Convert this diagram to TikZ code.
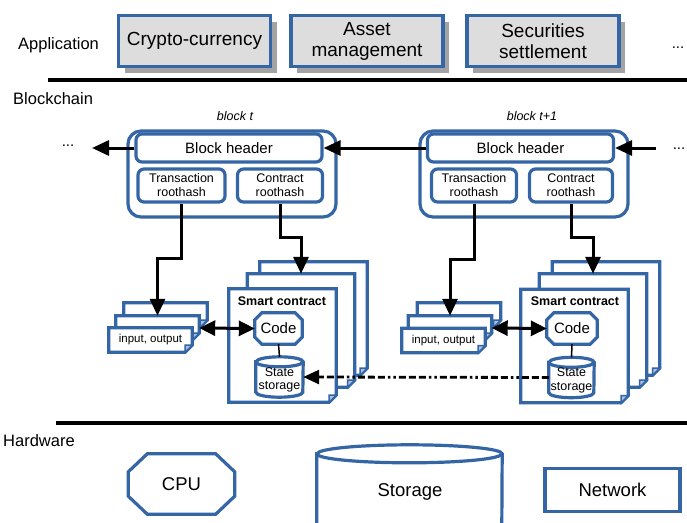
\documentclass[tikz,border=0pt]{standalone}
\usepackage{fontspec}
\setmainfont{Liberation Sans}
\usetikzlibrary{arrows.meta,shadows}
\definecolor{bl}{HTML}{3465A4}
\definecolor{foldc}{HTML}{A7C0E0}
\definecolor{appfill}{HTML}{DDDDDD}
\definecolor{shadowc}{HTML}{A3A3A3}
\newcommand\mypage[1]{%
  \draw[blueline, fill=white] (#1.north west) -- (#1.north east) -- ([yshift=7pt]#1.south east) -- ([xshift=-7pt]#1.south east) -- (#1.south west) -- cycle;
  \draw[draw=bl, line width=1.5pt, fill=foldc] ([yshift=7pt]#1.south east) -- ([xshift=-7pt,yshift=7pt]#1.south east) -- ([xshift=-7pt]#1.south east) -- cycle;}
\newcommand\myoct[3]{%
  \draw[blueline, fill=white] ([xshift=#2]#1.north west) -- ([xshift=-#2]#1.north east) -- ([yshift=-#3]#1.north east) -- ([yshift=#3]#1.south east) -- ([xshift=-#2]#1.south east) -- ([xshift=#2]#1.south west) -- ([yshift=#3]#1.south west) -- ([yshift=-#3]#1.north west) -- cycle;}
\newcommand\mycyl[3]{%
  \draw[blueline, fill=white] ([yshift=-#3]#1.north west) -- ([yshift=#3]#1.south west) arc[start angle=180, end angle=360, x radius=#2, y radius=#3] -- ([yshift=-#3]#1.north east) arc[start angle=0, end angle=180, x radius=#2, y radius=#3] -- cycle;
  \draw[blueline] ([yshift=-#3]#1.north west) arc[start angle=180, end angle=360, x radius=#2, y radius=#3];}
\begin{document}
\begin{tikzpicture}[x=1pt,y=1pt,
  blueline/.style={draw=bl, line width=3.2pt},
  appbox/.style={blueline, fill=appfill, minimum width=152pt, minimum height=51pt, align=center, inner sep=0pt, font=\fontsize{19}{21}\selectfont, drop shadow={shadow xshift=6pt, shadow yshift=-6pt, fill=shadowc, opacity=1}},
  layer/.style={anchor=west, inner sep=0pt, font=\fontsize{16.5}{18}\selectfont},
  outerblk/.style={blueline, rounded corners=13pt, minimum width=208pt, minimum height=86pt, inner sep=0pt},
  hdr/.style={blueline, rounded corners=6pt, minimum width=186pt, minimum height=28pt, inner sep=0pt, font=\fontsize{15}{17}\selectfont},
  hashbox/.style={blueline, rounded corners=6pt, minimum height=33pt, inner sep=0pt, align=center, font=\fontsize{12.5}{14}\selectfont},
  blklabel/.style={inner sep=0pt, font=\fontsize{12.5}{14}\selectfont\itshape},
  iopage/.style={draw=none, minimum width=83pt, minimum height=24pt, inner sep=0pt, font=\fontsize{11.5}{13}\selectfont},
  scpage/.style={draw=none, minimum width=107pt, minimum height=113pt, inner sep=0pt},
  shape box/.style={draw=none, inner sep=0pt, align=center},
  tip/.style={Triangle[length=17pt,width=15pt]},
  conn/.style={line width=3pt, -{Triangle[length=17pt,width=15pt]}},
  dconn/.style={line width=3pt, {Triangle[length=16pt,width=15pt]}-{Triangle[length=16pt,width=15pt]}},
  dots/.style={inner sep=0pt, font=\fontsize{15}{17}\selectfont},
  sep/.style={line width=3.5pt}
]
\useasboundingbox (0,0) rectangle (687,-522);

% ---------------- Application layer
\node[layer] (lapp) at (18,-45) {Application};
\node[appbox] (app1) at (194.5,-41) {Crypto-currency};
\node[appbox] (app2) at (367,-41) {Asset\\management};
\node[appbox] (app3) at (543,-41) {Securities\\settlement};
\node[dots] (appdots) at (678,-48) {...};

\coordinate (s1a) at (48,-80);
\coordinate (s1b) at (687,-80);
\draw[sep] (s1a) -- (s1b);

% ---------------- Blockchain layer
\node[layer] (lbc) at (13,-99) {Blockchain};

\node[blklabel] (lblkT) at (235,-116) {block t};
\node[blklabel] (lblk1) at (532,-116) {block t+1};

\node[outerblk] (blkT) at (232,-174) {};
\node[hdr] (hdT) at (229,-148) {Block header};
\node[hashbox, minimum width=87pt] (txT) at (181.5,-185.5) {Transaction\\roothash};
\node[hashbox, minimum width=85pt] (ctT) at (280,-185.5) {Contract\\roothash};

\node[outerblk] (blk1) at (524,-174) {};
\node[hdr] (hd1) at (520.5,-148) {Block header};
\node[hashbox, minimum width=85pt] (tx1) at (474,-185.5) {Transaction\\roothash};
\node[hashbox, minimum width=83pt] (ct1) at (571,-185.5) {Contract\\roothash};

% chain arrows
\node[dots] (dotsL) at (68,-146) {...};
\node[dots] (dotsR) at (679,-149) {...};
\coordinate (aL) at (92,-148);
\coordinate (aR) at (656,-148);
\draw[conn] (aR) -- (hd1.east);
\draw[conn] (hd1.west) -- (hdT.east);
\draw[conn] (hdT.west) -- (aL);

% input/output stacks (block t)
\node[iopage] (ioTb) at (165.5,-315) {};
\node[iopage] (ioTm) at (157.5,-328) {};
\node[iopage] (ioTf) at (150.5,-340) {};
\mypage{ioTb}\mypage{ioTm}\mypage{ioTf}
\node[iopage] at (ioTf) {input, output};

% smart contract stacks (block t)
\node[scpage] (scTb) at (313.5,-318.5) {};
\node[scpage] (scTm) at (301,-330.5) {};
\node[scpage] (scTf) at (282.5,-345.5) {};
\mypage{scTb}\mypage{scTm}\mypage{scTf}
\node[inner sep=0pt, font=\fontsize{12.5}{14}\selectfont\bfseries] (scTl) at (282,-301) {Smart contract};

\node[shape box, minimum width=47pt, minimum height=31pt] (codeT) at (278.5,-328.5) {};
\myoct{codeT}{7pt}{7pt}
\node[font=\fontsize{15}{17}\selectfont, inner sep=0pt] at (codeT) {Code};
\node[shape box, minimum width=47pt, minimum height=40pt] (storT) at (279.5,-377) {};
\mycyl{storT}{23.5}{5}
\node[font=\fontsize{12.5}{13.5}\selectfont, inner sep=0pt, align=center] at ([yshift=-3pt]storT.center) {State\\storage};

% input/output stacks (block t+1)
\node[iopage] (io1b) at (459,-315) {};
\node[iopage] (io1m) at (450,-328) {};
\node[iopage] (io1f) at (443.5,-340.5) {};
\mypage{io1b}\mypage{io1m}\mypage{io1f}
\node[iopage] at (io1f) {input, output};

% smart contract stacks (block t+1)
\node[scpage] (sc1b) at (606,-318.5) {};
\node[scpage] (sc1m) at (593,-330.5) {};
\node[scpage] (sc1f) at (574.5,-346) {};
\mypage{sc1b}\mypage{sc1m}\mypage{sc1f}
\node[inner sep=0pt, font=\fontsize{12.5}{14}\selectfont\bfseries] (sc1l) at (575,-301) {Smart contract};

\node[shape box, minimum width=50pt, minimum height=31pt] (code1) at (572,-328.5) {};
\myoct{code1}{7pt}{7pt}
\node[font=\fontsize{15}{17}\selectfont, inner sep=0pt] at (code1) {Code};
\node[shape box, minimum width=45pt, minimum height=40pt] (stor1) at (571.5,-377.5) {};
\mycyl{stor1}{22.5}{5}
\node[font=\fontsize{12.5}{13.5}\selectfont, inner sep=0pt, align=center] at ([yshift=-3pt]stor1.center) {State\\storage};

% connectors from roothashes
\draw[conn] (txT.south) -- ++(0,-55) -| (ioTm.north);
\draw[conn] (ctT.south) -- ++(0,-34) -| (scTm.north);
\draw[conn] (tx1.south) -- ++(0,-56) -| (io1m.north);
\draw[conn] (ct1.south) -- ++(0,-34) -| (sc1m.north);

\draw[dconn] (ioTm.east) -- (codeT.west);
\draw[dconn] (io1m.east) -- (code1.west);
\draw[line width=1.5pt] (codeT.south) -- (storT.north);
\draw[line width=1.5pt] (code1.south) -- (stor1.north);

\draw[line width=2.8pt, dash pattern=on 7pt off 3pt on 7pt off 3pt on 7pt off 3pt on 2.5pt off 3pt on 2.5pt off 3pt, -{Triangle[length=16pt,width=14pt]}] (stor1.west) -- (storT.east);

\coordinate (s2a) at (56,-423);
\coordinate (s2b) at (687,-423);
\draw[sep] (s2a) -- (s2b);

% ---------------- Hardware layer
\node[layer] (lhw) at (3,-441) {Hardware};

\node[shape box, minimum width=106pt, minimum height=60pt] (cpu) at (181.5,-484) {};
\myoct{cpu}{19pt}{18pt}
\node[font=\fontsize{18.5}{20}\selectfont, inner sep=0pt] at (cpu) {CPU};

\node[shape box, minimum width=185pt, minimum height=88pt] (hstor) at (409.5,-489) {};
\mycyl{hstor}{92.5}{9}
\node[font=\fontsize{18.5}{20}\selectfont, inner sep=0pt] at (410,-492) {Storage};

\node[blueline, minimum width=135pt, minimum height=43pt, inner sep=0pt, font=\fontsize{18.5}{20}\selectfont] (net) at (612.5,-490) {Network};
\end{tikzpicture}
\end{document}
